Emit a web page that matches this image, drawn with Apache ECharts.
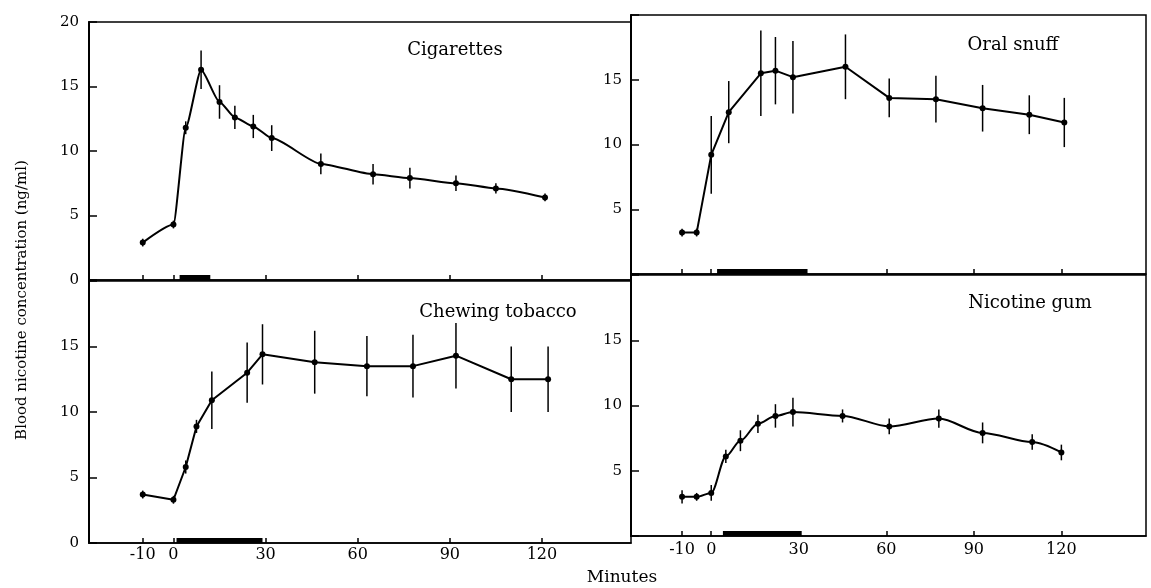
<!DOCTYPE html>
<html>
<head>
<meta charset="utf-8">
<title>Blood nicotine concentration</title>
<script src="https://cdn.jsdelivr.net/npm/echarts@6.0.0/dist/echarts.min.js"></script>
<style>
html, body { margin: 0; padding: 0; background: #fff; }
#main { width: 1151px; height: 588px; }
</style>
</head>
<body>
<div id="main"></div>
<script>
// tick labels
var xTicks = [-10, 0, 30, 60, 90, 120];
var yTicks = [0, 5, 10, 15, 20];

// Cigarettes
var cigTime = [-10, 0, 4, 9, 15, 20, 26, 32, 48, 65, 77, 92, 105, 121];
var cigConc = [2.9, 4.3, 11.8, 16.3, 13.8, 12.6, 11.9, 11.0, 9.0, 8.2, 7.9, 7.5, 7.1, 6.4];
var cigErr = [0.3, 0.3, 0.5, 1.5, 1.3, 0.9, 0.9, 1.0, 0.8, 0.8, 0.8, 0.6, 0.4, 0.3];
var cigDose = [2, 12];

// Oral snuff
var snuffTime = [-10, -5, 0, 6, 17, 22, 28, 46, 61, 77, 93, 109, 121];
var snuffConc = [3.2, 3.2, 9.2, 12.5, 15.5, 15.7, 15.2, 16.0, 13.6, 13.5, 12.8, 12.3, 11.7];
var snuffErr = [0.3, 0.3, 3.0, 2.4, 3.3, 2.6, 2.8, 2.5, 1.5, 1.8, 1.8, 1.5, 1.9];
var snuffDose = [2, 33];

// Chewing tobacco
var chewTime = [-10, 0, 4, 7.5, 12.5, 24, 29, 46, 63, 78, 92, 110, 122];
var chewConc = [3.7, 3.3, 5.8, 8.9, 10.9, 13.0, 14.4, 13.8, 13.5, 13.5, 14.3, 12.5, 12.5];
var chewErr = [0.3, 0.3, 0.5, 0.5, 2.2, 2.3, 2.3, 2.4, 2.3, 2.4, 2.5, 2.5, 2.5];
var chewDose = [1, 29];

// Nicotine gum
var gumTime = [-10, -5, 0, 5, 10, 16, 22, 28, 45, 61, 78, 93, 110, 120];
var gumConc = [3.0, 3.0, 3.3, 6.1, 7.3, 8.6, 9.2, 9.5, 9.2, 8.4, 9.0, 7.9, 7.2, 6.4];
var gumErr = [0.5, 0.3, 0.6, 0.5, 0.8, 0.7, 0.9, 1.1, 0.5, 0.6, 0.7, 0.8, 0.6, 0.6];
var gumDose = [4, 31];

var font = 'DejaVu Serif';
var myChart = echarts.init(document.getElementById('main'));

function zip(t, v) {
    return t.map(function (x, i) { return [x, v[i]]; });
}
function bars(t, v, e) {
    return t.map(function (x, i) { return [x, v[i] - e[i], v[i] + e[i]]; });
}

// 误差线
function errBar(params, api) {
    var lo = api.coord([api.value(0), api.value(1)]);
    var hi = api.coord([api.value(0), api.value(2)]);
    return {
        type: 'line',
        shape: { x1: lo[0], y1: lo[1], x2: hi[0], y2: hi[1] },
        style: { stroke: '#000', lineWidth: 1.5 }
    };
}
// 给药时段的粗条
function doseBar(params, api) {
    var a = api.coord([api.value(0), 0]);
    var b = api.coord([api.value(1), 0]);
    return {
        type: 'rect',
        shape: { x: a[0], y: a[1] - 5, width: b[0] - a[0], height: 5 },
        style: { fill: '#000' }
    };
}

var grids = [
    { left: 89, top: 22, width: 542, height: 258 },   // 左上
    { left: 631, top: 15, width: 515, height: 259 },  // 右上
    { left: 89, top: 281, width: 542, height: 262 },  // 左下
    { left: 631, top: 275, width: 515, height: 261 }  // 右下
];
var yShown = [[0, 5, 10, 15, 20], [5, 10, 15], [0, 5, 10, 15], [5, 10, 15]];
var smooth = [0.2, false, false, 0.3];
var panels = [
    [cigTime, cigConc, cigErr, cigDose],
    [snuffTime, snuffConc, snuffErr, snuffDose],
    [chewTime, chewConc, chewErr, chewDose],
    [gumTime, gumConc, gumErr, gumDose]
];

var option = {
    backgroundColor: '#fff',
    animation: false,
    grid: [],
    xAxis: [],
    yAxis: [],
    series: [],
    graphic: []
};

grids.forEach(function (g, i) {
    option.grid.push({
        left: g.left, top: g.top, width: g.width, height: g.height,
        show: true, borderColor: '#000', borderWidth: 1.5
    });
    option.xAxis.push({
        type: 'value',
        gridIndex: i,
        min: -27.5,
        max: 149,
        splitLine: { show: false },
        axisLine: { show: true, onZero: false, lineStyle: { color: '#000', width: 1.5 } },
        axisTick: { show: true, inside: true, length: 5, customValues: xTicks, lineStyle: { color: '#000', width: 1.5 } },
        axisLabel: {
            show: i >= 2,
            customValues: xTicks,
            margin: i == 2 ? 4 : 6,
            color: '#000',
            fontFamily: font,
            fontSize: 16
        }
    });
    option.yAxis.push({
        type: 'value',
        gridIndex: i,
        min: 0,
        max: 20,
        interval: 5,
        splitLine: { show: false },
        axisLine: { show: true, onZero: false, lineStyle: { color: '#000', width: 2 } },
        axisTick: { show: true, inside: true, length: 8, lineStyle: { color: '#000', width: 1.5 } },
        axisLabel: {
            showMinLabel: true,
            showMaxLabel: true,
            margin: i % 2 == 0 ? 10 : 9,
            color: '#000',
            fontFamily: font,
            fontSize: 15,
            formatter: (function (list) {
                return function (v) { return list.indexOf(v) >= 0 ? String(v) : ''; };
            })(yShown[i])
        }
    });

    var p = panels[i];
    option.series.push({
        type: 'line',
        xAxisIndex: i,
        yAxisIndex: i,
        data: zip(p[0], p[1]),
        smooth: smooth[i],
        smoothMonotone: 'x',
        symbol: 'circle',
        symbolSize: 6,
        lineStyle: { color: '#000', width: 2 },
        itemStyle: { color: '#000' }
    });
    option.series.push({
        type: 'custom',
        xAxisIndex: i,
        yAxisIndex: i,
        renderItem: errBar,
        encode: { x: 0, y: [1, 2] },
        data: bars(p[0], p[1], p[2]),
        z: 3
    });
    option.series.push({
        type: 'custom',
        xAxisIndex: i,
        yAxisIndex: i,
        renderItem: doseBar,
        encode: { x: [0, 1] },
        data: [p[3]],
        z: 4
    });
});

// 各面板标题和坐标轴名称
function label(text, x, y, size, rot) {
    return {
        type: 'text',
        x: x,
        y: y,
        rotation: rot || 0,
        style: {
            text: text,
            fill: '#000',
            font: size + 'px "' + font + '"',
            align: 'center',
            verticalAlign: 'middle'
        }
    };
}
option.graphic = [
    label('Cigarettes', 455, 50, 18),
    label('Oral snuff', 1013, 45, 18),
    label('Chewing tobacco', 498, 312, 18),
    label('Nicotine gum', 1030, 303, 18),
    label('Minutes', 622, 578, 17),
    label('Blood nicotine concentration (ng/ml)', 22, 300, 15, Math.PI / 2)
];

myChart.setOption(option);
window.addEventListener('resize', function () {
    myChart.resize();
});
</script>
</body>
</html>
